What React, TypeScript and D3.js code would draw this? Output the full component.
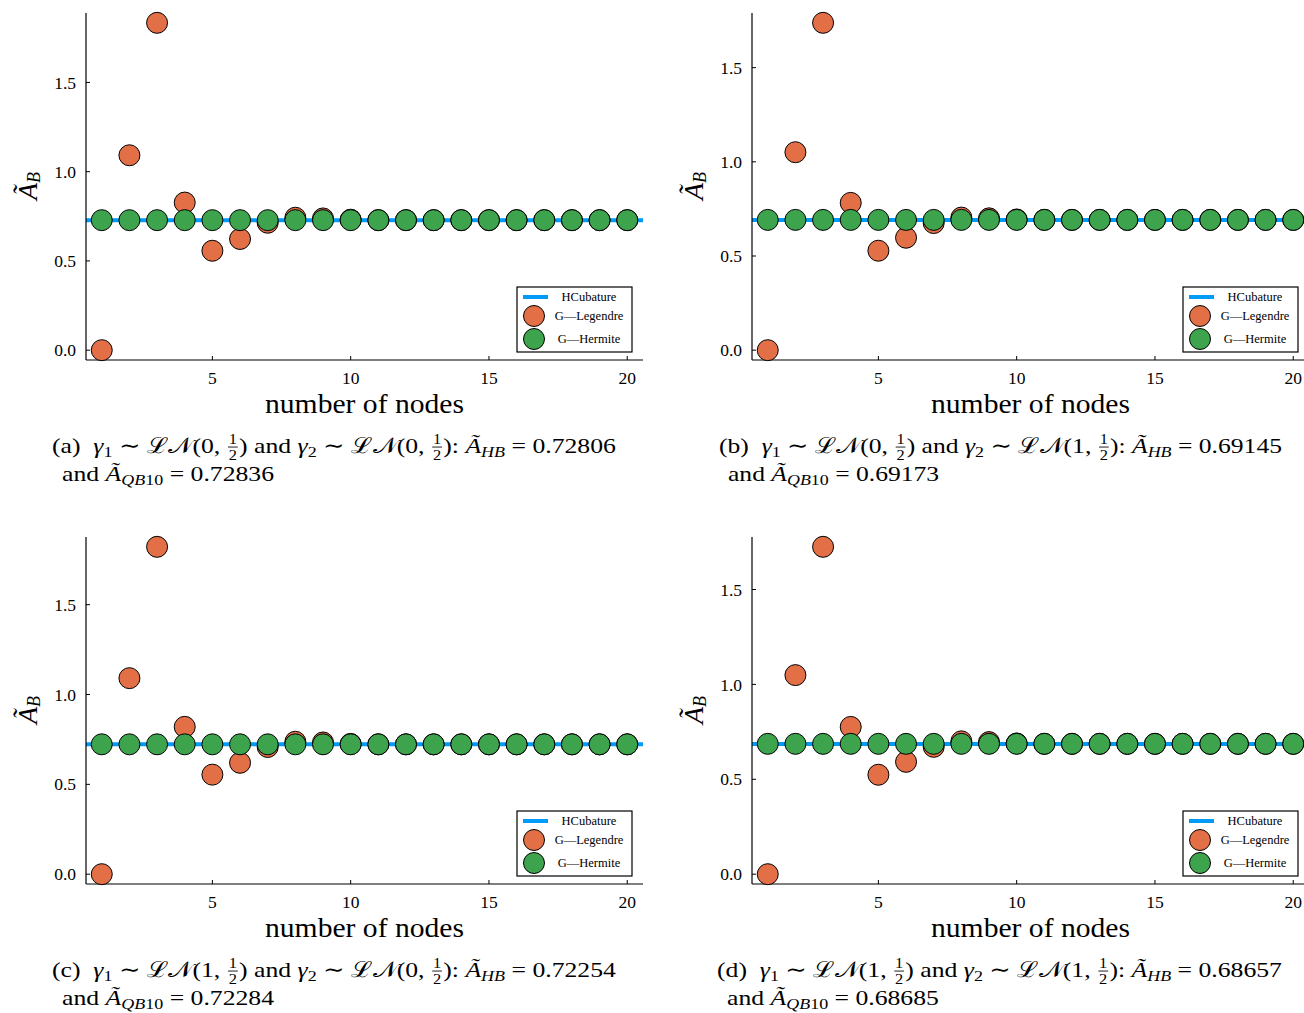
import React, { useEffect, useRef } from "react";
import * as d3 from "d3";

// ---------- data ----------
const nodes = [1, 2, 3, 4, 5, 6, 7, 8, 9, 10, 11, 12, 13, 14, 15, 16, 17, 18, 19, 20];

const hcubA = 0.72806;
const legendreA = [0.0, 1.092, 1.834, 0.827, 0.557, 0.623, 0.714, 0.742, 0.738, 0.731, 0.7285, 0.7284, 0.7284, 0.7284, 0.7284, 0.7284, 0.7284, 0.7284, 0.7284, 0.7284];
const hermiteA = [0.7284, 0.7284, 0.7284, 0.7284, 0.7284, 0.7284, 0.7284, 0.7284, 0.7284, 0.7284, 0.7284, 0.7284, 0.7284, 0.7284, 0.7284, 0.7284, 0.7284, 0.7284, 0.7284, 0.7284];

const hcubB = 0.69145;
const legendreB = [0.0, 1.051, 1.738, 0.782, 0.528, 0.597, 0.675, 0.704, 0.7, 0.694, 0.692, 0.6917, 0.6917, 0.6917, 0.6917, 0.6917, 0.6917, 0.6917, 0.6917, 0.6917];
const hermiteB = [0.6917, 0.6917, 0.6917, 0.6917, 0.6917, 0.6917, 0.6917, 0.6917, 0.6917, 0.6917, 0.6917, 0.6917, 0.6917, 0.6917, 0.6917, 0.6917, 0.6917, 0.6917, 0.6917, 0.6917];

const hcubC = 0.72254;
const legendreC = [0.0, 1.091, 1.822, 0.82, 0.554, 0.62, 0.708, 0.737, 0.733, 0.725, 0.723, 0.7228, 0.7228, 0.7228, 0.7228, 0.7228, 0.7228, 0.7228, 0.7228, 0.7228];
const hermiteC = [0.7228, 0.7228, 0.7228, 0.7228, 0.7228, 0.7228, 0.7228, 0.7228, 0.7228, 0.7228, 0.7228, 0.7228, 0.7228, 0.7228, 0.7228, 0.7228, 0.7228, 0.7228, 0.7228, 0.7228];

const hcubD = 0.68657;
const legendreD = [0.0, 1.049, 1.725, 0.776, 0.524, 0.592, 0.671, 0.7, 0.696, 0.689, 0.687, 0.6868, 0.6868, 0.6868, 0.6868, 0.6868, 0.6868, 0.6868, 0.6868, 0.6868];
const hermiteD = [0.6868, 0.6868, 0.6868, 0.6868, 0.6868, 0.6868, 0.6868, 0.6868, 0.6868, 0.6868, 0.6868, 0.6868, 0.6868, 0.6868, 0.6868, 0.6868, 0.6868, 0.6868, 0.6868, 0.6868];

const xTicks = [5, 10, 15, 20];
const yTicks = [0, 0.5, 1.0, 1.5];
const yTickLabels = ["0.0", "0.5", "1.0", "1.5"];
const legendLabels = ["HCubature", "G\u2014Legendre", "G\u2014Hermite"];
const xLabel = "number of nodes";
const panelLetters = ["(a)", "(b)", "(c)", "(d)"];
const mu1 = ["0", "0", "1", "1"];
const mu2 = ["0", "1", "0", "1"];
const hbLabels = ["0.72806", "0.69145", "0.72254", "0.68657"];
const qbLabels = ["0.72836", "0.69173", "0.72284", "0.68685"];

// ---------- style / layout ----------
const BLUE = "#009af9";
const ORANGE = "#e26f46";
const GREEN = "#3da44d";
const FONT = "'Liberation Serif', 'DejaVu Serif', serif";
const PW = 557;
const PH = 347;
const R = 10.5;

const layout = [
  { left: 86, top: 13, capX: 52, cap2X: 62, capW: 564 },
  { left: 752, top: 13, capX: 719, cap2X: 728, capW: 563 },
  { left: 86, top: 537, capX: 52, cap2X: 62, capW: 564 },
  { left: 752, top: 537, capX: 717, cap2X: 727, capW: 565 },
];
const seriesSets = [
  { legendre: legendreA, hermite: hermiteA, hcub: hcubA },
  { legendre: legendreB, hermite: hermiteB, hcub: hcubB },
  { legendre: legendreC, hermite: hermiteC, hcub: hcubC },
  { legendre: legendreD, hermite: hermiteD, hcub: hcubD },
];

type Tok = { t?: string; it?: boolean; sub?: boolean; frac?: [string, string] };

function drawRich(g: any, toks: Tok[], x0: number, y0: number, fs: number) {
  let x = x0;
  for (const tk of toks) {
    if (tk.frac) {
      const fsz = fs * 0.64;
      const n = g.append("text").attr("y", y0 - fs * 0.42).attr("font-size", fsz).attr("text-anchor", "middle").text(tk.frac[0]);
      const d = g.append("text").attr("y", y0 + fs * 0.3).attr("font-size", fsz).attr("text-anchor", "middle").text(tk.frac[1]);
      const wn = (n.node() as SVGTextElement).getComputedTextLength();
      const wd = (d.node() as SVGTextElement).getComputedTextLength();
      const w = Math.max(wn, wd) + fs * 0.16;
      n.attr("x", x + w / 2);
      d.attr("x", x + w / 2);
      g.append("line")
        .attr("x1", x + fs * 0.05).attr("x2", x + w - fs * 0.05)
        .attr("y1", y0 - fs * 0.27).attr("y2", y0 - fs * 0.27)
        .attr("stroke", "#000").attr("stroke-width", 0.8);
      x += w;
    } else {
      const sz = tk.sub ? fs * 0.7 : fs;
      const t = g.append("text")
        .attr("x", x)
        .attr("y", y0 + (tk.sub ? fs * 0.18 : 0))
        .attr("font-size", sz)
        .attr("font-style", tk.it ? "italic" : "normal")
        .text((tk.t || "").replace(/ /g, "\u00A0"));
      x += (t.node() as SVGTextElement).getComputedTextLength();
    }
  }
  return x - x0;
}

function Caption({ i }: { i: number }) {
  const ref = useRef<SVGGElement>(null);
  useEffect(() => {
    const g = d3.select(ref.current);
    g.selectAll("*").remove();
    const L = layout[i];
    const base = L.top + PH;
    const y1 = base + 93;
    const y2 = base + 121;
    const fs = 22;
    const line1: Tok[] = [
      { t: panelLetters[i] + "  " },
      { t: "\u03B3", it: true }, { t: "1", sub: true },
      { t: " \u223C " }, { t: "\u2112\uD835\uDCA9" }, { t: "(" + mu1[i] + ", " }, { frac: ["1", "2"] }, { t: ") and " },
      { t: "\u03B3", it: true }, { t: "2", sub: true },
      { t: " \u223C " }, { t: "\u2112\uD835\uDCA9" }, { t: "(" + mu2[i] + ", " }, { frac: ["1", "2"] }, { t: "): " },
      { t: "\u00C3", it: true }, { t: "HB", sub: true, it: true }, { t: " = " + hbLabels[i] },
    ];
    const line2: Tok[] = [
      { t: "and " }, { t: "\u00C3", it: true }, { t: "QB", sub: true, it: true }, { t: "10", sub: true },
      { t: " = " + qbLabels[i] },
    ];
    const g1 = g.append("g");
    const g2 = g.append("g");
    const w1 = drawRich(g1, line1, L.capX, y1, fs);
    drawRich(g2, line2, L.cap2X, y2, fs);
    const k = L.capW / w1;
    g1.attr("transform", `translate(${L.capX},0) scale(${k},1) translate(${-L.capX},0)`);
    g2.attr("transform", `translate(${L.cap2X},0) scale(${k},1) translate(${-L.cap2X},0)`);
  }, [i]);
  return <g ref={ref} fontFamily={FONT} fill="#000" />;
}

function Panel({ i }: { i: number }) {
  const L = layout[i];
  const S = seriesSets[i];
  const n = nodes.length;
  const xr = (nodes[n - 1] - nodes[0]) * 0.03;
  const x = d3.scaleLinear().domain([nodes[0] - xr, nodes[n - 1] + xr]).range([L.left, L.left + PW]);
  const all = [...S.legendre, ...S.hermite, S.hcub];
  const [mn, mx] = d3.extent(all) as [number, number];
  const yr = (mx - mn) * 0.03;
  const y = d3.scaleLinear().domain([mn - yr, mx + yr]).range([L.top + PH, L.top]);
  const bottom = L.top + PH;
  const lx = L.left + 431;
  const ly = L.top + 274;
  const clipId = "clip" + i;
  return (
    <g>
      <defs>
        <clipPath id={clipId}>
          <rect x={L.left} y={L.top} width={PW} height={PH} />
        </clipPath>
      </defs>
      {/* HCubature line */}
      <line x1={x.range()[0]} x2={x.range()[1]} y1={y(S.hcub)} y2={y(S.hcub)} stroke={BLUE} strokeWidth={4} clipPath={`url(#${clipId})`} />
      {/* axes */}
      <line x1={L.left} x2={L.left} y1={L.top} y2={bottom} stroke="#000" strokeWidth={1.2} />
      <line x1={L.left} x2={L.left + PW} y1={bottom} y2={bottom} stroke="#000" strokeWidth={1.2} />
      {yTicks.map((t, k) => (
        <g key={"yt" + k}>
          <line x1={L.left} x2={L.left + 4} y1={y(t)} y2={y(t)} stroke="#000" strokeWidth={1} />
          <text x={L.left - 10} y={y(t)} dy="0.35em" textAnchor="end" fontSize={17.5} fontFamily={FONT}>{yTickLabels[k]}</text>
        </g>
      ))}
      {xTicks.map((t, k) => (
        <g key={"xt" + k}>
          <line x1={x(t)} x2={x(t)} y1={bottom} y2={bottom - 4} stroke="#000" strokeWidth={1} />
          <text x={x(t)} y={bottom + 24} textAnchor="middle" fontSize={17.5} fontFamily={FONT}>{t}</text>
        </g>
      ))}
      {/* markers */}
      {nodes.map((nd, k) => (
        <circle key={"o" + k} cx={x(nd)} cy={y(S.legendre[k])} r={R} fill={ORANGE} stroke="#000" strokeWidth={1} />
      ))}
      {nodes.map((nd, k) => (
        <circle key={"g" + k} cx={x(nd)} cy={y(S.hermite[k])} r={R} fill={GREEN} stroke="#000" strokeWidth={1} />
      ))}
      {/* labels */}
      <text x={(L.left + L.left + PW) / 2} y={bottom + 53} textAnchor="middle" fontSize={27} fontFamily={FONT} textLength={199} lengthAdjust="spacingAndGlyphs">{xLabel}</text>
      <text transform={`translate(${L.left - 49},${L.top + 173}) rotate(-90)`} textAnchor="middle" fontSize={28} fontFamily={FONT} fontStyle="italic">
        {"\u00C3"}<tspan fontSize={18} dy={3}>B</tspan>
      </text>
      {/* legend */}
      <rect x={lx} y={ly} width={115} height={65} fill="#fff" stroke="#000" strokeWidth={1.2} />
      <line x1={lx + 6} x2={lx + 31} y1={ly + 10} y2={ly + 10} stroke={BLUE} strokeWidth={4} />
      <circle cx={lx + 17} cy={ly + 29} r={R} fill={ORANGE} stroke="#000" strokeWidth={1} />
      <circle cx={lx + 17} cy={ly + 52} r={R} fill={GREEN} stroke="#000" strokeWidth={1} />
      {legendLabels.map((lab, k) => (
        <text key={"lg" + k} x={lx + 72} y={ly + [10, 29, 52][k]} dy="0.35em" textAnchor="middle" fontSize={12.5} fontFamily={FONT}>{lab}</text>
      ))}
    </g>
  );
}

export default function App() {
  return (
    <svg width={1304} height={1013} style={{ position: "absolute", left: 0, top: 0, background: "#fff" }} fontFamily={FONT}>
      <rect x={0} y={0} width={1304} height={1013} fill="#fff" />
      {[0, 1, 2, 3].map((i) => (
        <g key={i}>
          <Panel i={i} />
          <Caption i={i} />
        </g>
      ))}
    </svg>
  );
}
